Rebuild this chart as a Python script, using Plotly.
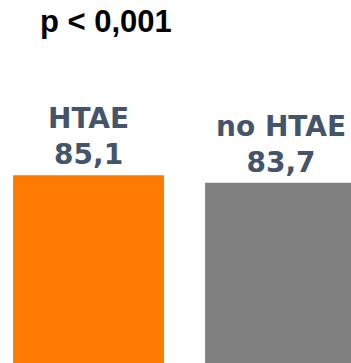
import plotly.graph_objects as go

# Group labels and their values
categories = ["HTAE", "no HTAE"]
values = [85.1, 83.7]
value_labels = ["85,1", "83,7"]
bar_colors = ["#FF7B00", "#808080"]
title_text = "p < 0,001"

fig = go.Figure()
fig.add_trace(go.Bar(
    x=categories,
    y=values,
    width=0.786,
    marker=dict(color=bar_colors, line=dict(width=0)),
    hoverinfo="skip",
))

# Two-line label above each bar: group name and value
for cat, val, lab in zip(categories, values, value_labels):
    fig.add_annotation(
        x=cat, y=val, xref="x", yref="y",
        text=f"{cat}<br>{lab}",
        showarrow=False,
        yanchor="bottom", yshift=2,
        font=dict(family="DejaVu Sans", size=28, color="#44546A", weight="bold"),
        align="center",
    )

fig.add_annotation(
    x=106.5 / 351, y=1, xref="paper", yref="paper",
    text=title_text, showarrow=False,
    xanchor="center", yanchor="top", yshift=-2,
    font=dict(family="Liberation Sans", size=31, color="#000000", weight="bold"),
)

fig.update_layout(
    width=351, height=363,
    margin=dict(l=0, r=0, t=0, b=0),
    paper_bgcolor="white", plot_bgcolor="white",
    showlegend=False,
    xaxis=dict(range=[-0.461, 1.367], visible=False, fixedrange=True),
    yaxis=dict(range=[50.1, 117.8], visible=False, fixedrange=True),
)

fig.write_html("out.html", config={"displayModeBar": False})
